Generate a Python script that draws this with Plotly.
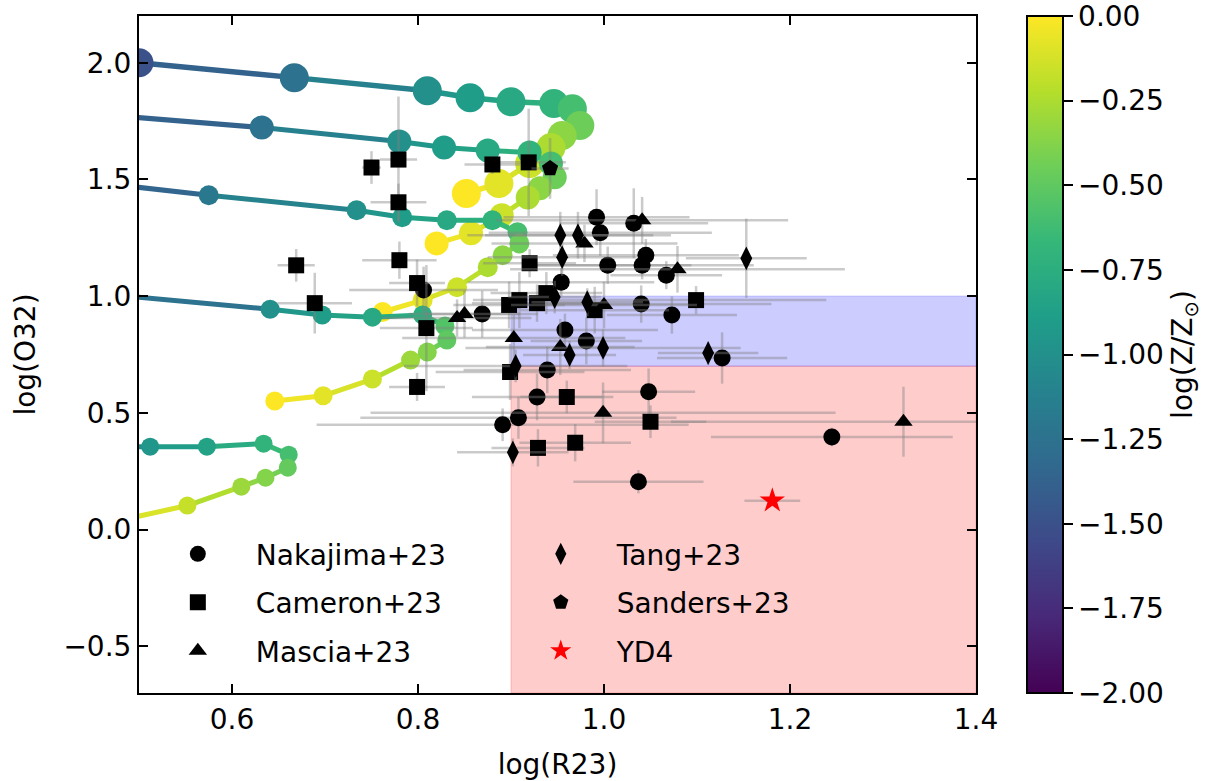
import plotly.graph_objects as go
from plotly.colors import sample_colorscale

ZMIN, ZMAX = -2.0, 0.0

# ---------------- photoionisation model tracks (log R23, log O32, log Z/Zsun) -------------
t1_x = [0.500, 0.667, 0.810, 0.856, 0.900, 0.946, 0.966, 0.974, 0.955, 0.943, 0.920, 0.887, 0.852]
t1_y = [2.000, 1.936, 1.880, 1.850, 1.833, 1.825, 1.803, 1.731, 1.688, 1.637, 1.568, 1.483, 1.440]
t1_z = [-1.5, -1.25, -1.0, -0.9, -0.8, -0.7, -0.6, -0.45, -0.35, -0.25, -0.15, -0.08, 0.0]

t2_x = [0.400, 0.632, 0.780, 0.828, 0.875, 0.920, 0.943, 0.947, 0.931, 0.918, 0.890, 0.857, 0.820]
t2_y = [1.797, 1.722, 1.662, 1.637, 1.624, 1.615, 1.568, 1.509, 1.462, 1.423, 1.346, 1.269, 1.226]
t2_z = [-1.5, -1.25, -1.0, -0.9, -0.8, -0.7, -0.6, -0.45, -0.35, -0.25, -0.15, -0.08, 0.0]

t3_x = [0.400, 0.575, 0.734, 0.783, 0.831, 0.880, 0.907, 0.909, 0.891, 0.875, 0.842, 0.805, 0.762]
t3_y = [1.511, 1.432, 1.368, 1.338, 1.325, 1.325, 1.274, 1.226, 1.175, 1.124, 1.038, 0.983, 0.932]
t3_z = [-1.5, -1.2, -1.0, -0.9, -0.8, -0.7, -0.6, -0.45, -0.35, -0.25, -0.15, -0.08, 0.0]

t4_x = [0.400, 0.641, 0.697, 0.751, 0.805, 0.829, 0.831, 0.810, 0.792, 0.751, 0.698, 0.646]
t4_y = [1.032, 0.944, 0.919, 0.910, 0.919, 0.872, 0.812, 0.761, 0.726, 0.645, 0.573, 0.551]
t4_z = [-1.5, -1.0, -0.9, -0.8, -0.75, -0.55, -0.5, -0.38, -0.3, -0.15, -0.08, 0.0]

t5_x = [0.450, 0.512, 0.573, 0.634, 0.661, 0.660, 0.636, 0.610, 0.552, 0.450]
t5_y = [0.355, 0.355, 0.355, 0.368, 0.321, 0.265, 0.222, 0.184, 0.103, 0.014]
t5_z = [-1.1, -0.95, -0.85, -0.7, -0.6, -0.48, -0.38, -0.3, -0.17, -0.05]

# ---------------- observations -------------
nak_x = [0.806, 0.869, 0.992, 0.996, 1.032, 1.004, 1.045, 1.041, 1.067, 0.954, 1.040, 1.073,
         0.958, 0.981, 1.127, 0.939, 0.928, 1.048, 0.908, 0.891, 1.037, 1.245]
nak_y = [1.026, 0.923, 1.338, 1.272, 1.312, 1.132, 1.175, 1.132, 1.090, 1.060, 0.966, 0.919,
         0.855, 0.808, 0.735, 0.684, 0.568, 0.590, 0.479, 0.449, 0.205, 0.397]
nak_xerr = [0.08, 0.06, 0.10, 0.12, 0.08, 0.09, 0.10, 0.12, 0.06, 0.10, 0.14, 0.07,
            0.10, 0.06, 0.07, 0.09, 0.07, 0.05, 0.17, 0.20, 0.07, 0.13]
nak_yerr = [0.10, 0.10, 0.12, 0.10, 0.15, 0.08, 0.07, 0.06, 0.06, 0.06, 0.08, 0.08,
            0.07, 0.10, 0.11, 0.10, 0.10, 0.10, 0.09, 0.07, 0.05, 0.04]

cam_x = [0.750, 0.779, 0.779, 0.880, 0.919, 0.669, 0.689, 0.780, 0.799, 0.809, 0.799, 0.920,
         0.898, 0.909, 0.928, 0.938, 0.990, 1.099, 0.899, 0.960, 1.050, 0.929, 0.969]
cam_y = [1.551, 1.585, 1.402, 1.564, 1.573, 1.132, 0.970, 1.154, 1.056, 0.863, 0.611, 1.141,
         0.962, 0.983, 0.970, 1.013, 0.940, 0.983, 0.675, 0.568, 0.462, 0.350, 0.372]
cam_xerr = [0.01, 0.02, 0.03, 0.03, 0.04, 0.02, 0.04, 0.04, 0.03, 0.05, 0.03, 0.05,
            0.06, 0.05, 0.07, 0.06, 0.08, 0.14, 0.08, 0.05, 0.06, 0.05, 0.06]
cam_yerr = [0.07, 0.27, 0.08, 0.04, 0.23, 0.07, 0.13, 0.08, 0.10, 0.27, 0.06, 0.06,
            0.10, 0.12, 0.08, 0.09, 0.10, 0.06, 0.12, 0.07, 0.07, 0.08, 0.08]

mas_x = [0.842, 0.850, 1.041, 1.079, 0.979, 1.000, 0.903, 0.953, 0.999, 1.322]
mas_y = [0.906, 0.923, 1.325, 1.115, 1.226, 0.962, 0.821, 0.782, 0.500, 0.462]
mas_xerr = [0.08, 0.06, 0.157, 0.18, 0.10, 0.10, 0.12, 0.08, 0.25, 0.25]
mas_yerr = [0.08, 0.10, 0.10, 0.10, 0.08, 0.10, 0.10, 0.12, 0.13, 0.15]

tang_x = [0.953, 0.972, 0.955, 1.153, 0.947, 0.982, 0.963, 0.999, 1.112, 0.905, 0.902]
tang_y = [1.261, 1.261, 1.167, 1.162, 0.996, 0.974, 0.748, 0.778, 0.756, 0.701, 0.331]
tang_xerr = [0.10, 0.10, 0.08, 0.065, 0.05, 0.06, 0.05, 0.148, 0.054, 0.12, 0.06]
tang_yerr = [0.10, 0.10, 0.08, 0.17, 0.07, 0.06, 0.06, 0.08, 0.05, 0.07, 0.06]

san_x = [0.942]
san_y = [1.547]
san_xerr = [0.02]
san_yerr = [0.13]

yd4_x = [1.181]
yd4_y = [0.124]
yd4_xerr = [0.03]
yd4_yerr = [0.0]

# shaded diagnostic regions (log R23 lower bound, log O32 bounds)
region_x0 = 0.9
blue_y = [0.7, 1.0]
red_y = [-0.7, 0.7]

cbar_ticks = [-2.0, -1.75, -1.5, -1.25, -1.0, -0.75, -0.5, -0.25, 0.0]

FONT = "DejaVu Sans"
FS = 28


def zcol(z):
    return sample_colorscale("Viridis", [min(1.0, max(0.0, (z - ZMIN) / (ZMAX - ZMIN)))])[0]


fig = go.Figure()

tracks = [
    (t1_x, t1_y, t1_z, 29, 5.5),
    (t2_x, t2_y, t2_z, 24, 5),
    (t3_x, t3_y, t3_z, 20, 5),
    (t4_x, t4_y, t4_z, 19, 5),
    (t5_x, t5_y, t5_z, 18, 5),
]

for i, (xs, ys, zs, ms, lw) in enumerate(tracks):
    for j in range(len(xs) - 1):
        fig.add_trace(go.Scatter(
            x=[xs[j], xs[j + 1]], y=[ys[j], ys[j + 1]], mode="lines",
            line=dict(color=zcol(0.5 * (zs[j] + zs[j + 1])), width=lw),
            showlegend=False, hoverinfo="skip"))
    fig.add_trace(go.Scatter(
        x=xs, y=ys, mode="markers", showlegend=False,
        marker=dict(size=ms, color=zs, colorscale="Viridis", cmin=ZMIN, cmax=ZMAX,
                    line=dict(width=0), opacity=1,
                    showscale=(i == 0),
                    colorbar=dict(
                        x=(1027 - 139) / 837, xanchor="left", xpad=0, ypad=0,
                        y=0.5, yanchor="middle", len=1, lenmode="fraction",
                        thickness=36, outlinewidth=2, outlinecolor="black",
                        ticks="outside", ticklen=9, tickwidth=2, tickcolor="black",
                        tickvals=cbar_ticks, ticklabeloverflow="allow",
                        tickformat=".2f", tickfont=dict(family=FONT, size=FS),
                        title=dict(text="log(Z/Z<sub>⊙</sub>)", side="right",
                                   font=dict(family=FONT, size=FS)),
                    ))))

err_col = "rgba(128,128,128,0.42)"

surveys = [
    ("Nakajima+23", nak_x, nak_y, nak_xerr, nak_yerr, "circle", 17, "black", "legend"),
    ("Cameron+23", cam_x, cam_y, cam_xerr, cam_yerr, "square", 16, "black", "legend"),
    ("Mascia+23", mas_x, mas_y, mas_xerr, mas_yerr, "triangle-up", 16, "black", "legend"),
    ("Tang+23", tang_x, tang_y, tang_xerr, tang_yerr, "diamond-tall", 17, "black", "legend2"),
    ("Sanders+23", san_x, san_y, san_xerr, san_yerr, "pentagon", 17, "black", "legend2"),
    ("YD4", yd4_x, yd4_y, yd4_xerr, yd4_yerr, "star", 19, "red", "legend2"),
]

for name, xs, ys, xe, ye, sym, size, col, leg in surveys:
    fig.add_trace(go.Scatter(
        x=xs, y=ys, mode="markers", name=name, legend=leg, legendgroup=name,
        marker=dict(symbol=sym, size=size, color=col, line=dict(width=0)),
        error_x=dict(type="data", array=xe, color=err_col, thickness=2.5, width=0),
        error_y=dict(type="data", array=ye, color=err_col, thickness=2.5, width=0),
    ))

fig.add_shape(type="rect", xref="x", yref="y", x0=region_x0, x1=1.4, y0=blue_y[0], y1=blue_y[1],
              fillcolor="rgba(0,0,255,0.2)", line=dict(color="rgba(0,0,255,0.2)", width=1),
              layer="below")
fig.add_shape(type="rect", xref="x", yref="y", x0=region_x0, x1=1.4, y0=red_y[0], y1=red_y[1],
              fillcolor="rgba(255,0,0,0.2)", line=dict(color="rgba(255,0,0,0.2)", width=1),
              layer="below")

axis_common = dict(ticks="inside", ticklen=9, tickwidth=2, tickcolor="black",
                   showline=True, linewidth=2, linecolor="black", mirror="allticks",
                   showgrid=False, zeroline=False, automargin=False,
                   tickfont=dict(family=FONT, size=FS, color="black"))

fig.update_layout(
    width=1232, height=781,
    margin=dict(l=139, r=256, t=16, b=88, autoexpand=False),
    plot_bgcolor="white", paper_bgcolor="white",
    font=dict(family=FONT, size=FS, color="black"),
    xaxis=dict(range=[0.5, 1.4], tickvals=[0.6, 0.8, 1.0, 1.2, 1.4], tickformat=".1f",
               title=dict(text="log(R23)", standoff=20, font=dict(family=FONT, size=FS)),
               **axis_common),
    yaxis=dict(range=[-0.7, 2.2], tickvals=[-0.5, 0.0, 0.5, 1.0, 1.5, 2.0], tickformat=".1f",
               title=dict(text="log(O32)", standoff=20, font=dict(family=FONT, size=FS)),
               **axis_common),
    legend=dict(x=0.001, y=0.242, xanchor="left", yanchor="top", bgcolor="rgba(0,0,0,0)",
                tracegroupgap=9, itemwidth=106, font=dict(family=FONT, size=FS)),
    legend2=dict(x=0.437, y=0.242, xanchor="left", yanchor="top", bgcolor="rgba(0,0,0,0)",
                 tracegroupgap=9, itemwidth=102, font=dict(family=FONT, size=FS)),
)

fig.write_html("out.html")
